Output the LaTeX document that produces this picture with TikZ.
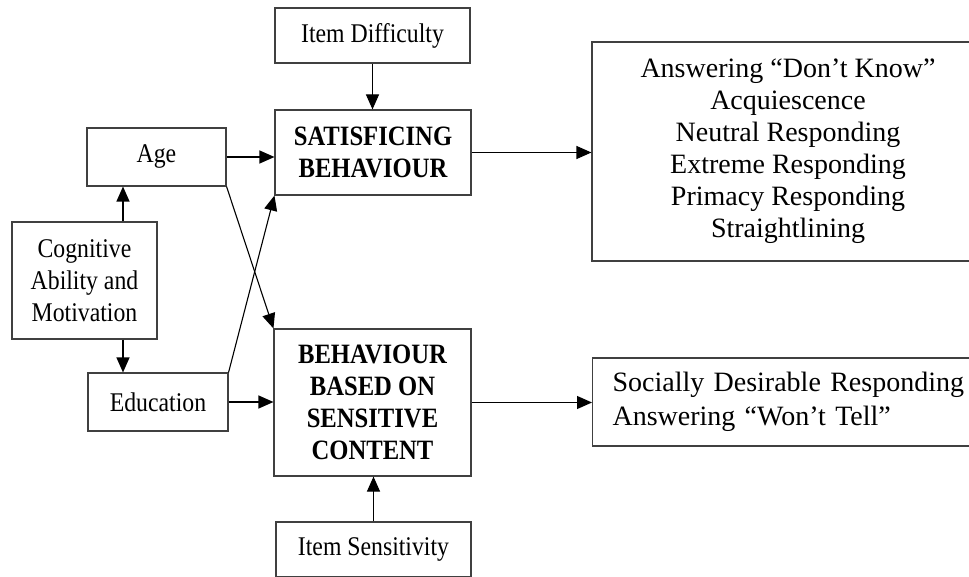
\documentclass[tikz,border=0pt]{standalone}
\usepackage{fontspec}
\setmainfont{Liberation Serif}
\newfontfamily\narrowserif[FakeStretch=0.88]{Liberation Serif}
\usetikzlibrary{arrows.meta}

\begin{document}
\begin{tikzpicture}[x=1pt,y=-1pt,
  box/.style={draw=black!75,line width=1.1pt,inner sep=0pt,align=center,
    font=\narrowserif\fontsize{27}{32}\selectfont},
  boldbox/.style={box,font=\narrowserif\fontsize{28}{32}\selectfont\bfseries},
  bigbox/.style={box,font=\fontsize{28}{32}\selectfont},
  arr/.style={line width=1.1pt,-{Triangle[length=15pt,width=13pt]}}]
  \useasboundingbox (0,0) rectangle (969,577);
  \clip (0,0) rectangle (969,577);

  % Left side
  \node[box,minimum width=145,minimum height=117] (cog) at (84.5,280.5)
    {Cognitive\\Ability and\\Motivation};
  \node[box,minimum width=139,minimum height=58] (age) at (156.5,157) {Age};
  \node[box,minimum width=140,minimum height=58] (edu) at (158,402) {Education};

  % Middle column
  \node[box,minimum width=195,minimum height=55] (diff) at (372.5,35.5) {Item Difficulty};
  \node[boldbox,minimum width=196,minimum height=85] (sat) at (373,152.5)
    {SATISFICING\\BEHAVIOUR};
  \node[boldbox,minimum width=197,minimum height=147] (beh) at (372.5,402.5)
    {BEHAVIOUR\\BASED ON\\SENSITIVE\\CONTENT};
  \node[box,minimum width=195,minimum height=55] (sens) at (373.5,549.5) {Item Sensitivity};

  % Right side (runs past the edge)
  \node[bigbox,minimum width=392,minimum height=219] (resp) at (788,151.5)
    {Answering “Don’t Know”\\Acquiescence\\Neutral Responding\\Extreme Responding\\Primacy Responding\\Straightlining};
  \node[bigbox,anchor=west,align=left,text width=380,inner xsep=20,
    minimum height=88,font=\fontsize{28}{34}\selectfont] (soc) at (592,402)
    {Socially Desirable Responding\\Answering “Won’t Tell”};

  % Arrows
  \coordinate (cogup) at ([xshift=38.5]cog.north);
  \coordinate (cogdn) at ([xshift=38.5]cog.south);
  \draw[arr] (cogup) -- (cogup |- age.south);
  \draw[arr] (cogdn) -- (cogdn |- edu.north);
  \draw[arr] (age.east) -- (age.east -| sat.west);
  \draw[arr] (edu.east) -- (edu.east -| beh.west);
  \draw[arr] (age.south east) -- (beh.north west);
  \draw[arr] (edu.north east) -- (sat.south west);
  \draw[arr] (diff.south) -- (diff.south |- sat.north);
  \draw[arr] (sens.north) -- (sens.north |- beh.south);
  \draw[arr] (sat.east) -- (sat.east -| resp.west);
  \draw[arr] (beh.east) -- (beh.east -| soc.west);
\end{tikzpicture}
\end{document}
